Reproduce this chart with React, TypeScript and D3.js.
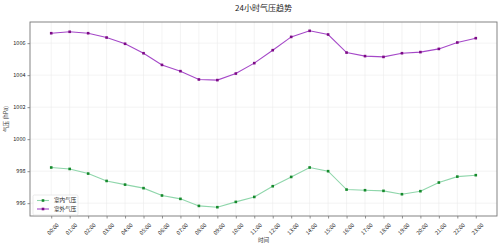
import React, { useEffect, useRef } from 'react';
import * as d3 from 'd3';

const hours = [
  '00:00', '01:00', '02:00', '03:00', '04:00', '05:00', '06:00', '07:00',
  '08:00', '09:00', '10:00', '11:00', '12:00', '13:00', '14:00', '15:00',
  '16:00', '17:00', '18:00', '19:00', '20:00', '21:00', '22:00', '23:00'
];

const indoor = [
  998.23, 998.14, 997.85, 997.39, 997.16, 996.94, 996.48, 996.27,
  995.83, 995.75, 996.08, 996.39, 997.06, 997.64, 998.23, 998.0,
  996.85, 996.81, 996.77, 996.56, 996.75, 997.29, 997.66, 997.75
];

const outdoor = [
  1006.62, 1006.71, 1006.62, 1006.35, 1005.96, 1005.37, 1004.64, 1004.25,
  1003.73, 1003.69, 1004.1, 1004.75, 1005.56, 1006.39, 1006.77, 1006.54,
  1005.41, 1005.19, 1005.14, 1005.37, 1005.44, 1005.64, 1006.04, 1006.31
];

const yTicks = [996, 998, 1000, 1002, 1004, 1006];

const series = [
  { name: '室内气压', values: indoor, line: '#8fd6ab', marker: '#168a2c' },
  { name: '室外气压', values: outdoor, line: '#a548c8', marker: '#7d0a86' }
];

const W = 500;
const H = 248;
const FONT = '"Noto Sans CJK SC", "DejaVu Sans", sans-serif';

const App = () => {
  const ref = useRef(null);

  useEffect(() => {
    const margins = { l: 30, t: 22, r: 3, b: 32 };
    const pw = W - margins.l - margins.r;
    const ph = H - margins.t - margins.b;

    const svg = d3.select(ref.current);
    svg.selectAll('*').remove();
    svg.attr('width', W).attr('height', H).style('font-family', FONT);

    const n = hours.length;
    const pad = (n - 1) * 0.05;
    const x = d3.scaleLinear().domain([-pad, n - 1 + pad]).range([0, pw]);

    const all = indoor.concat(outdoor);
    const [lo, hi] = d3.extent(all);
    const ypad = (hi - lo) * 0.05;
    const y = d3.scaleLinear().domain([lo - ypad, hi + ypad]).range([ph, 0]);

    const g = svg.append('g').attr('transform', `translate(${margins.l},${margins.t})`);

    // grid
    g.selectAll('.vgrid')
      .data(hours)
      .join('line')
      .attr('class', 'vgrid')
      .attr('x1', (d, i) => x(i))
      .attr('x2', (d, i) => x(i))
      .attr('y1', 0)
      .attr('y2', ph)
      .style('stroke', '#ebebeb')
      .style('stroke-width', 0.6);
    g.selectAll('.hgrid')
      .data(yTicks)
      .join('line')
      .attr('class', 'hgrid')
      .attr('x1', 0)
      .attr('x2', pw)
      .attr('y1', d => y(d))
      .attr('y2', d => y(d))
      .style('stroke', '#ebebeb')
      .style('stroke-width', 0.6);

    // axes
    const xAxis = d3.axisBottom(x)
      .tickValues(d3.range(n))
      .tickFormat(i => hours[i])
      .tickSize(2.5)
      .tickPadding(2);
    const xg = g.append('g').attr('transform', `translate(0,${ph})`).call(xAxis);
    xg.select('.domain').remove();
    xg.selectAll('line').style('stroke', '#444').style('stroke-width', 0.6);
    xg.selectAll('text')
      .style('font-size', '5.5px')
      .style('fill', '#222')
      .style('font-family', FONT)
      .attr('text-anchor', 'end')
      .attr('dy', '0.35em')
      .attr('transform', 'translate(3,5) rotate(-45)');

    const yAxis = d3.axisLeft(y)
      .tickValues(yTicks)
      .tickFormat(d3.format('d'))
      .tickSize(2.5)
      .tickPadding(2);
    const yg = g.append('g').call(yAxis);
    yg.select('.domain').remove();
    yg.selectAll('line').style('stroke', '#444').style('stroke-width', 0.6);
    yg.selectAll('text')
      .style('font-size', '5.5px')
      .style('fill', '#222')
      .style('font-family', FONT);

    // frame
    g.append('rect')
      .attr('width', pw)
      .attr('height', ph)
      .style('fill', 'none')
      .style('stroke', '#777')
      .style('stroke-width', 0.9);

    const line = d3.line().x((d, i) => x(i)).y(d => y(d));

    series.forEach(s => {
      g.append('path')
        .datum(s.values)
        .attr('d', line)
        .style('fill', 'none')
        .style('stroke', s.line)
        .style('stroke-width', 1.1);
      g.selectAll(null)
        .data(s.values)
        .join('rect')
        .attr('x', (d, i) => x(i) - 1.3)
        .attr('y', d => y(d) - 1.3)
        .attr('width', 2.6)
        .attr('height', 2.6)
        .style('fill', s.marker);
    });

    // legend
    const lg = g.append('g').attr('transform', 'translate(3,173)');
    lg.append('rect')
      .attr('width', 45)
      .attr('height', 20)
      .attr('rx', 1.5)
      .style('fill', 'rgba(255,255,255,0.8)')
      .style('stroke', '#ddd')
      .style('stroke-width', 0.6);
    series.forEach((s, i) => {
      const row = lg.append('g').attr('transform', `translate(4,${5.5 + i * 8.5})`);
      row.append('line')
        .attr('x1', 0)
        .attr('x2', 12)
        .style('stroke', s.line)
        .style('stroke-width', 1.1);
      row.append('rect')
        .attr('x', 4.7)
        .attr('y', -1.3)
        .attr('width', 2.6)
        .attr('height', 2.6)
        .style('fill', s.marker);
      row.append('text')
        .attr('x', 17)
        .attr('dy', '0.35em')
        .style('font-size', '5.6px')
        .style('fill', '#222')
        .text(s.name);
    });

    // titles
    svg.append('text')
      .attr('x', margins.l + pw / 2)
      .attr('y', 11)
      .attr('text-anchor', 'middle')
      .style('font-size', '8px')
      .style('fill', '#222')
      .text('24小时气压趋势');

    svg.append('text')
      .attr('x', margins.l + pw / 2)
      .attr('y', 242)
      .attr('text-anchor', 'middle')
      .style('font-size', '5.6px')
      .style('fill', '#333')
      .text('时间');

    svg.append('text')
      .attr('transform', `translate(8,${margins.t + ph / 2}) rotate(-90)`)
      .attr('text-anchor', 'middle')
      .style('font-size', '5.6px')
      .style('fill', '#333')
      .text('气压 (hPa)');
  }, []);

  return (
    <div style={{ position: 'absolute', left: 0, top: 0, width: W, height: H, background: '#fff' }}>
      <svg ref={ref}></svg>
    </div>
  );
};

export default App;
